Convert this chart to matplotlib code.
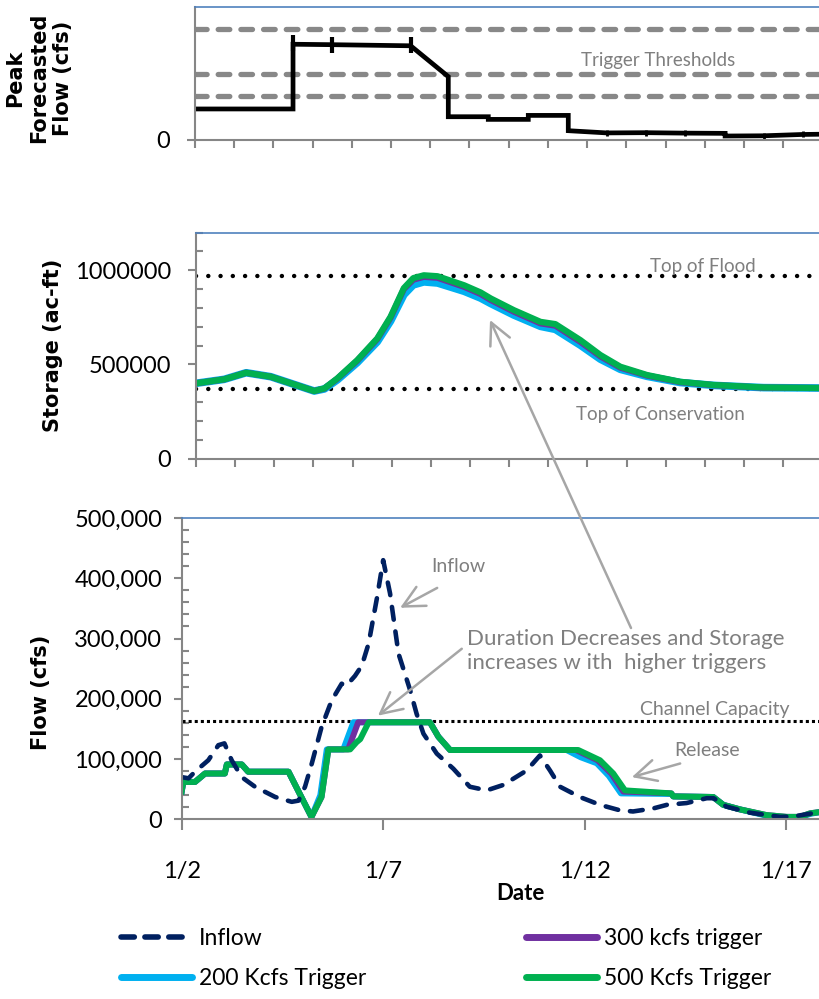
import matplotlib
matplotlib.use("Agg")
import matplotlib.pyplot as plt
from matplotlib.ticker import MultipleLocator, FuncFormatter, FixedLocator
from matplotlib.lines import Line2D

plt.rcParams['font.family'] = ['Lato', 'DejaVu Sans']

# days after 1/2
tick_labels = ['1/2', '1/7', '1/12', '1/17']

# peak forecasted flow (kcfs)
fc_day = [0, 2.5, 2.5, 3.5, 5.5, 6.46, 6.46, 7.48, 7.48, 8.5, 8.5, 9.52, 9.52,
          10.5, 11.5, 12.5, 13.52, 13.52, 14.5, 15.5, 15.94]
fc_flow = [140, 140, 432, 430, 425, 286, 105, 105, 93, 93, 111, 111, 42,
           32, 33, 31, 30, 18, 19, 25, 26]
fc_issue_day = [2.5, 3.5, 5.5, 8.5, 10.5, 11.5, 12.5, 14.5, 15.5]
fc_issue_flow = [436, 430, 428, 102, 32, 33, 31, 19, 25]
trigger_levels = [200, 300, 500]

# storage (ac-ft)
st_day = [0, 0.72, 1.28, 1.91, 2.42, 3.02, 3.28, 3.61, 4.12, 4.63, 4.97, 5.31,
          5.55, 5.82, 6.17, 6.85, 7.27, 7.53, 8.12, 8.8, 9.18, 9.82, 10.33,
          10.84, 11.52, 12.37, 13.22, 14.5, 15.94]
st_200 = [400e3, 421e3, 456e3, 435e3, 400e3, 359e3, 370e3, 418e3, 510e3, 620e3,
          730e3, 870e3, 922e3, 938e3, 932e3, 888e3, 852e3, 823e3, 762e3, 702e3,
          686e3, 602e3, 528e3, 474e3, 437e3, 404e3, 389e3, 377e3, 375e3]
st_300 = [400e3, 421e3, 456e3, 435e3, 400e3, 359e3, 372e3, 424e3, 520e3, 634e3,
          748e3, 900e3, 950e3, 965e3, 960e3, 912e3, 874e3, 842e3, 780e3, 718e3,
          706e3, 620e3, 543e3, 483e3, 441e3, 406e3, 390e3, 377e3, 375e3]
st_500 = [400e3, 421e3, 456e3, 435e3, 400e3, 359e3, 373e3, 426e3, 523e3, 638e3,
          753e3, 905e3, 958e3, 973e3, 968e3, 920e3, 882e3, 850e3, 788e3, 726e3,
          714e3, 629e3, 550e3, 488e3, 444e3, 408e3, 391e3, 378e3, 375e3]
top_of_flood = 970000
top_of_conservation = 370000

# inflow (cfs)
in_day = [0, 0.17, 0.33, 0.66, 0.91, 1.06, 1.24, 1.49, 1.82, 2.32, 2.73, 2.9,
          3.06, 3.23, 3.47, 3.72, 3.97, 4.09, 4.3, 4.47, 4.64, 4.85, 5.0, 5.17,
          5.38, 5.67, 5.83, 6.0, 6.33, 6.74, 7.15, 7.57, 7.98, 8.27, 8.56, 8.89,
          9.14, 9.39, 9.88, 10.38, 10.87, 11.2, 11.7, 12.04, 12.53, 13.03, 13.2,
          13.52, 14.1, 14.85, 15.2, 15.84]
inflow = [70e3, 68e3, 79e3, 98e3, 123e3, 126e3, 98e3, 70e3, 54e3, 37e3, 29e3,
          31e3, 54e3, 93e3, 153e3, 197e3, 225e3, 222e3, 238e3, 255e3, 292e3,
          369e3, 430e3, 375e3, 275e3, 214e3, 175e3, 142e3, 109e3, 84e3, 54e3,
          48e3, 57e3, 69e3, 81e3, 106e3, 81e3, 54e3, 37e3, 24e3, 15e3, 13e3,
          18e3, 24e3, 27e3, 35e3, 35e3, 21e3, 11e3, 4e3, 5e3, 12e3]

# releases (cfs) for each trigger
rel_500_day = [0, 0.04, 0.33, 0.58, 1.07, 1.12, 1.49, 1.65, 2.65, 3.22, 3.47,
               3.64, 4.18, 4.34, 4.43, 4.52, 4.64, 6.16, 6.37, 6.66, 9.84,
               10.38, 10.71, 11.0, 12.15, 12.2, 13.19, 13.44, 13.85, 14.51,
               15.01, 15.34, 15.6, 15.84]
rel_500 = [46e3, 62e3, 62e3, 76e3, 76e3, 91e3, 91e3, 79e3, 79e3, 4e3, 37e3,
           116e3, 116e3, 128e3, 133e3, 145e3, 161e3, 161e3, 137e3, 115e3,
           115e3, 98e3, 76e3, 48e3, 43e3, 38e3, 37e3, 24e3, 16.5e3, 7e3, 4e3,
           4e3, 10e3, 12e3]
rel_300_day = [0, 0.04, 0.33, 0.58, 1.07, 1.12, 1.49, 1.65, 2.65, 3.22, 3.47,
               3.64, 4.13, 4.38, 6.16, 6.37, 6.66, 9.78, 10.32, 10.66, 10.96,
               12.15, 12.2, 13.19, 13.44, 13.85, 14.51, 15.01, 15.34, 15.6, 15.84]
rel_300 = [46e3, 62e3, 62e3, 76e3, 76e3, 91e3, 91e3, 79e3, 79e3, 4e3, 37e3,
           116e3, 116e3, 161e3, 161e3, 137e3, 115e3, 115e3, 98e3, 76e3, 46e3,
           43e3, 38e3, 37e3, 24e3, 16.5e3, 7e3, 4e3, 4e3, 10e3, 12e3]
rel_200_day = [0, 0.04, 0.33, 0.58, 1.07, 1.12, 1.49, 1.65, 2.65, 3.22, 3.44,
               3.6, 4.01, 4.26, 6.16, 6.37, 6.66, 9.55, 9.9, 10.3, 10.6, 10.9,
               12.15, 12.2, 13.19, 13.44, 13.85, 14.51, 15.01, 15.34, 15.6, 15.84]
rel_200 = [46e3, 62e3, 62e3, 76e3, 76e3, 91e3, 91e3, 79e3, 79e3, 4e3, 40e3,
           116e3, 116e3, 161e3, 161e3, 137e3, 115e3, 115e3, 103e3, 93e3, 72e3,
           43e3, 42e3, 38e3, 37e3, 24e3, 16.5e3, 6e3, 3e3, 3e3, 9e3, 12e3]
channel_capacity = 163000

NAVY = '#002060'
BLUE = '#00B0F0'
PURPLE = '#7030A0'
GREEN = '#00B050'
GREY_TXT = '#7F7F7F'
AXIS_GREY = '#868686'
ARROW_GREY = '#A6A6A6'

W, H = 820, 999
fig = plt.figure(figsize=(W / 100, H / 100), dpi=100)


def px_axes(left, top, bottom):
    return fig.add_axes([left / W, 1 - bottom / H, 1 - left / W, (bottom - top) / H])


def style_axes(ax):
    ax.spines['right'].set_visible(False)
    ax.spines['top'].set_color('#4F81BD')
    ax.spines['top'].set_linewidth(1.2)
    for s in ('left', 'bottom'):
        ax.spines[s].set_color(AXIS_GREY)
        ax.spines[s].set_linewidth(1.5)
    ax.tick_params(which='major', direction='out', length=6, width=1.5,
                   color=AXIS_GREY, labelsize=17, pad=12)
    ax.tick_params(which='minor', direction='in', length=5, width=1.5,
                   color=AXIS_GREY)
    ax.tick_params(axis='x', which='major', length=6)
    ax.set_facecolor('none')


# ---- peak forecasted flow ----
ax1 = px_axes(195, 7, 140)
style_axes(ax1)
for lvl in trigger_levels:
    ax1.plot([0, 16], [lvl, lvl], color='#888888', lw=3.8,
             dashes=(2.2, 2.1), dash_capstyle='round')
ax1.plot(fc_day, fc_flow, color='black', lw=3.4, solid_joinstyle='miter')
ax1.plot(fc_issue_day[:3], fc_issue_flow[:3], ls='none', marker='|',
         ms=11, mew=3, color='black')
ax1.plot(fc_issue_day[3:], fc_issue_flow[3:], ls='none', marker='|',
         ms=5, mew=2, color='black')
ax1.text(11.8, 357, 'Trigger Thresholds', color=GREY_TXT, fontsize=13.5,
         ha='center', va='center')
ax1.set_xlim(0, 15.94)
ax1.set_ylim(0, 600)
ax1.xaxis.set_major_locator(MultipleLocator(1))
ax1.set_xticklabels([])
ax1.yaxis.set_major_locator(FixedLocator([0]))
ax1.set_yticklabels(['0'])

# ---- storage ----
ax2 = px_axes(196, 232.5, 458.7)
style_axes(ax2)
ax2.plot([0, 16], [top_of_flood] * 2, color='black', lw=3.2,
         dashes=(0.01, 2.75), dash_capstyle='round')
ax2.plot([0, 16], [top_of_conservation] * 2, color='black', lw=3.2,
         dashes=(0.01, 2.75), dash_capstyle='round')
ax2.plot(st_day, st_200, color=BLUE, lw=5.5, solid_capstyle='round')
ax2.plot(st_day, st_300, color=PURPLE, lw=4.5, solid_capstyle='round')
ax2.plot(st_day, st_500, color=GREEN, lw=4.5, solid_capstyle='round')
ax2.text(12.96, 1.021e6, 'Top of Flood', color=GREY_TXT, fontsize=13.5,
         ha='center', va='center')
ax2.text(11.86, 232000, 'Top of Conservation', color=GREY_TXT, fontsize=13.5,
         ha='center', va='center')
ax2.set_xlim(0, 15.94)
ax2.set_ylim(0, 1.2e6)
ax2.xaxis.set_major_locator(MultipleLocator(1))
ax2.set_xticklabels([])
ax2.yaxis.set_major_locator(MultipleLocator(500000))
ax2.yaxis.set_minor_locator(MultipleLocator(100000))
ax2.yaxis.set_major_formatter(FuncFormatter(lambda v, p: '%d' % v))

# ---- flow ----
ax3 = px_axes(181.7, 518, 819.3)
style_axes(ax3)
ax3.plot([0, 16], [channel_capacity] * 2, color='black', lw=2.2,
         dashes=(1, 1))
ax3.plot(rel_200_day, rel_200, color=BLUE, lw=4.3)
ax3.plot(rel_300_day, rel_300, color=PURPLE, lw=4.3)
ax3.plot(rel_500_day, rel_500, color=GREEN, lw=4.3)
ax3.plot(in_day, inflow, color=NAVY, lw=3.3, dashes=(2.8, 2.6),
         dash_capstyle='round')
ax3.set_xlim(0, 15.84)
ax3.set_ylim(0, 500000)
ax3.xaxis.set_major_locator(FixedLocator([0, 5, 10, 15]))
ax3.set_xticklabels(tick_labels)
ax3.tick_params(axis='x', which='major', length=8, pad=22)
ax3.yaxis.set_major_locator(MultipleLocator(100000))
ax3.yaxis.set_minor_locator(MultipleLocator(20000))
ax3.yaxis.set_major_formatter(FuncFormatter(lambda v, p: '{:,.0f}'.format(v)))
ax3.tick_params(axis='y', which='major', pad=8)

arrow = dict(arrowstyle='->, head_length=0.7, head_width=0.35',
             color=ARROW_GREY, lw=1.8, mutation_scale=22, shrinkA=0, shrinkB=0)
ax3.text(6.86, 420000, 'Inflow', color=GREY_TXT, fontsize=14,
         ha='center', va='center')
ax3.annotate('', xy=(5.42, 351000), xytext=(6.34, 384000), arrowprops=arrow)
ax3.text(7.08, 280000, 'Duration Decreases and Storage\nincreases w ith  higher triggers',
         color=GREY_TXT, fontsize=16, ha='left', va='center', linespacing=1.25)
ax3.annotate('', xy=(4.87, 172000), xytext=(6.95, 283000), arrowprops=arrow)
ax3.annotate('', xy=(490, H - 320), xycoords='figure pixels',
             xytext=(631, H - 628), textcoords='figure pixels',
             arrowprops=arrow, annotation_clip=False)
ax3.text(13.23, 182000, 'Channel Capacity', color=GREY_TXT, fontsize=14,
         ha='center', va='center')
ax3.text(13.03, 114000, 'Release', color=GREY_TXT, fontsize=14,
         ha='center', va='center')
ax3.annotate('', xy=(11.17, 70000), xytext=(12.37, 92600), arrowprops=arrow)

fig.text(520 / W, 1 - 894 / H, 'Date', fontsize=16, fontweight='bold',
         ha='center', va='center')
lab = dict(family='DejaVu Sans', fontweight='bold', fontsize=15,
           rotation=90, ha='center', va='center')
fig.text(39 / W, 1 - 78 / H, 'Peak\nForecasted\nFlow (cfs)', linespacing=1.25, **lab)
fig.text(53 / W, 1 - 345 / H, 'Storage (ac-ft)', **lab)
fig.text(41 / W, 1 - 692 / H, 'Flow (cfs)', **lab)

handles = [
    Line2D([], [], color=NAVY, lw=4, dashes=(2.4, 1.9), dash_capstyle='round'),
    Line2D([], [], color=BLUE, lw=5, solid_capstyle='round'),
    Line2D([], [], color=PURPLE, lw=5, solid_capstyle='round'),
    Line2D([], [], color=GREEN, lw=5, solid_capstyle='round'),
]
labels = ['Inflow', '200 Kcfs Trigger', '300 kcfs trigger', '500 Kcfs Trigger']
fig.legend(handles, labels, ncol=2, loc='center',
           bbox_to_anchor=(446 / W, 1 - 958.5 / H), frameon=False,
           fontsize=16.5, handlelength=3.1, handletextpad=0.3,
           columnspacing=7.0, labelspacing=0.8, borderpad=0)

fig.savefig('out.png', dpi=100)
